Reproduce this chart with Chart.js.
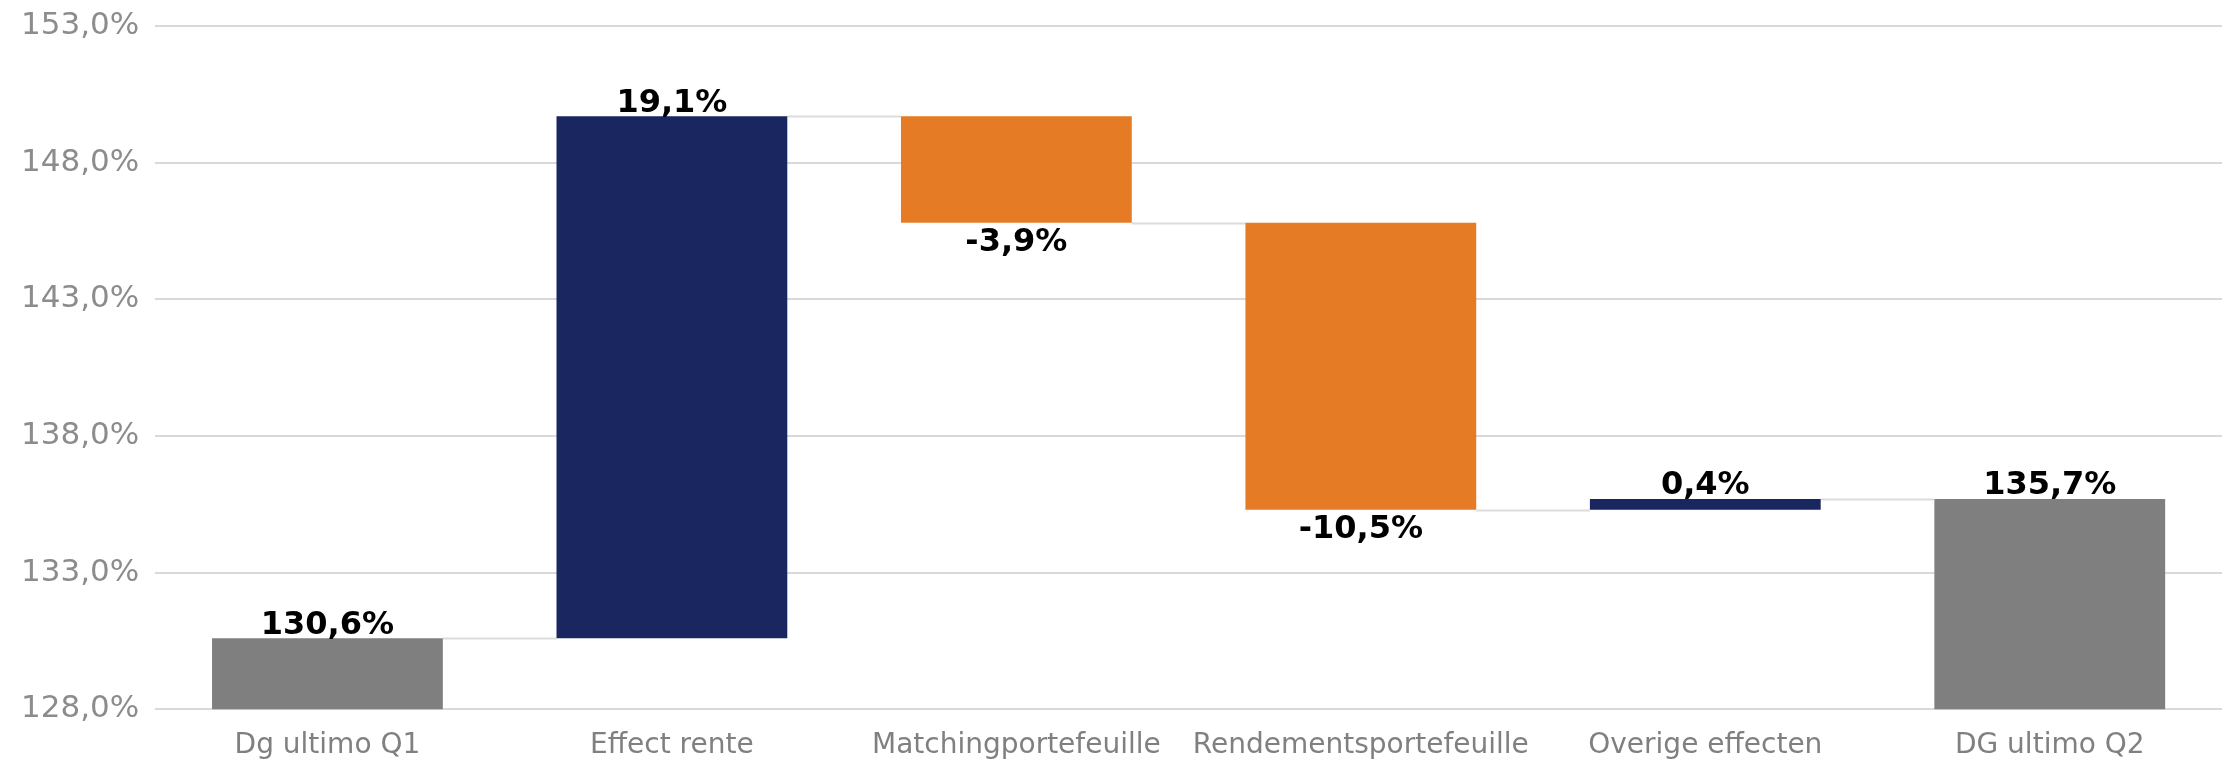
<!DOCTYPE html>
<html>
<head>
<meta charset="utf-8">
<script src="https://cdn.jsdelivr.net/npm/chart.js@4/dist/chart.umd.min.js"></script>
<style>
  html, body { margin: 0; padding: 0; background: #fff; }
  #wrap { width: 2232px; height: 760px; }
</style>
</head>
<body>
<div id="wrap"><canvas id="waterfall"></canvas></div>
<script>
const categories = ['Dg ultimo Q1', 'Effect rente', 'Matchingportefeuille', 'Rendementsportefeuille', 'Overige effecten', 'DG ultimo Q2'];
const changes = [130.6, 19.1, -3.9, -10.5, 0.4, 135.7];
const isTotal = [true, false, false, false, false, true];
const yTicks = [128, 133, 138, 143, 148, 153];

const NAVY = '#1a2660', ORANGE = '#e57b24', GREY = '#7f7f7f';

// floating bars from running total
const yMin = yTicks[0];
let running = 0;
const ranges = [], levels = [], colors = [];
changes.forEach((v, i) => {
    if (isTotal[i]) {
        running = v;
        ranges.push([yMin, v]);
        colors.push(GREY);
    } else {
        ranges.push([running, running + v]);
        running += v;
        colors.push(v >= 0 ? NAVY : ORANGE);
    }
    levels.push(running);
});

const fmt = v => v.toFixed(1).replace('.', ',') + '%';

const waterfallExtras = {
    id: 'waterfallExtras',
    beforeDatasetsDraw(chart) {
        const ctx = chart.ctx;
        const y = chart.scales.y;
        const bars = chart.getDatasetMeta(0).data;
        ctx.save();
        ctx.strokeStyle = '#dcdcdc';
        ctx.lineWidth = 2;
        for (let i = 0; i < bars.length - 1; i++) {
            const py = Math.round(y.getPixelForValue(levels[i])) + 0.5;
            ctx.beginPath();
            ctx.moveTo(bars[i].x + bars[i].width / 2, py);
            ctx.lineTo(bars[i + 1].x - bars[i + 1].width / 2, py);
            ctx.stroke();
        }
        ctx.restore();
    },
    afterDatasetsDraw(chart) {
        const ctx = chart.ctx;
        const y = chart.scales.y;
        const bars = chart.getDatasetMeta(0).data;
        ctx.save();
        ctx.font = 'bold 32px "DejaVu Sans"';
        ctx.fillStyle = '#000';
        ctx.textAlign = 'center';
        bars.forEach((bar, i) => {
            const v = changes[i];
            const [a, b] = ranges[i];
            if (isTotal[i] || v >= 0) {
                ctx.textBaseline = 'bottom';
                ctx.fillText(fmt(v), bar.x, y.getPixelForValue(Math.max(a, b)) + 3);
            } else {
                ctx.textBaseline = 'top';
                ctx.fillText(fmt(v), bar.x, y.getPixelForValue(Math.min(a, b)) + 4);
            }
        });
        ctx.restore();
    }
};

new Chart(document.getElementById('waterfall').getContext('2d'), {
    type: 'bar',
    data: {
        labels: categories,
        datasets: [{
            data: ranges,
            backgroundColor: colors,
            borderWidth: 0,
            borderSkipped: false,
            categoryPercentage: 1,
            barPercentage: 0.67
        }]
    },
    options: {
        responsive: true,
        maintainAspectRatio: false,
        animation: false,
        layout: { padding: { left: 5, right: 10, top: 26, bottom: -15 } },
        plugins: { legend: { display: false }, tooltip: { enabled: false } },
        scales: {
            x: {
                grid: { display: false },
                border: { display: false },
                ticks: { color: '#808080', font: { family: 'DejaVu Sans', size: 28 }, padding: 12, maxRotation: 0 }
            },
            y: {
                min: yTicks[0],
                max: yTicks[yTicks.length - 1],
                afterBuildTicks: axis => { axis.ticks = yTicks.map(v => ({ value: v })); },
                afterFit: axis => { axis.paddingTop = 0; axis.paddingBottom = 0; },
                grid: { color: '#d9d9d9', lineWidth: 2, drawTicks: false },
                border: { display: false },
                ticks: {
                    color: '#8c8c8c',
                    font: { family: 'DejaVu Sans', size: 31 },
                    padding: 16,
                    callback: v => fmt(v)
                }
            }
        }
    },
    plugins: [waterfallExtras]
});
</script>
</body>
</html>
